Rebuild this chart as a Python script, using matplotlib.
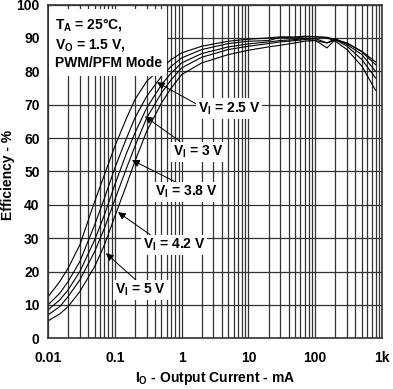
import matplotlib
matplotlib.use('Agg')
import matplotlib.pyplot as plt

# ---------------- dados ----------------
corrente = [0.01, 0.015, 0.02, 0.03, 0.05, 0.07, 0.1, 0.15, 0.2, 0.3, 0.5, 0.7,
            1, 2, 5, 10, 20, 30, 50, 70, 100, 150, 200, 300, 500, 800]

ef_2v5 = [12.4, 17, 21, 28, 41, 49, 57.5, 66, 71.5, 77, 81, 83.5,
          85.5, 87.5, 89, 89.6, 90, 90.3, 90.3, 90.5, 90.4, 90, 89, 86.5, 81.5, 74.3]
ef_3v = [10, 13.5, 17, 23, 34, 42, 51, 60, 66, 72.5, 78.5, 81.5,
         84, 86.5, 88.3, 89, 89.2, 90.2, 90, 90.3, 90.3, 90.2, 89.5, 87.5, 83.5, 78]
ef_3v8 = [8.5, 11.5, 14.5, 20, 29.5, 37, 46, 55.5, 61.5, 69, 76, 79.5,
          82.5, 85.3, 87.3, 88.2, 88.8, 89.2, 89.5, 89.8, 89.8, 88.5, 89.8, 88, 85, 80]
ef_4v2 = [7, 9.5, 12.5, 17.5, 26, 33, 41.5, 51, 57.5, 66, 73.5, 77.5,
          81, 84.2, 86.5, 87.5, 88.3, 88.8, 89.2, 89.5, 89.3, 87, 89.5, 88.5, 85.8, 82]
ef_5v = [5.2, 7.3, 9.5, 14, 21.5, 28, 36.5, 46, 53, 62, 70.5, 75,
         79, 82.5, 85, 86.3, 87.3, 87.8, 88.5, 89, 89.2, 88.5, 89.3, 88.4, 86, 82.8]

curvas = [ef_2v5, ef_3v, ef_3v8, ef_4v2, ef_5v]

rotulos = ['V$_\\mathregular{I}$ = 2.5 V', 'V$_\\mathregular{I}$ = 3 V',
           'V$_\\mathregular{I}$ = 3.8 V', 'V$_\\mathregular{I}$ = 4.2 V',
           'V$_\\mathregular{I}$ = 5 V']
# ponta da seta, inicio da seta e centro do rotulo (I, eficiencia)
pontas = [(0.4285, 76.7), (0.2825, 66.5), (0.181, 53.4), (0.1117, 37.8), (0.0738, 25.5)]
inicios = [(1.884, 69.6), (0.946, 59.0), (1.01, 45.9), (0.400, 30.0), (0.222, 16.9)]
centros = [(5.12, 68.9), (1.82, 55.8), (1.164, 43.8), (0.769, 27.9), (0.2466, 14.5)]

xticks = [0.01, 0.1, 1, 10, 100, 1000]
xticklabels = ['0.01', '0.1', '1', '10', '100', '1k']
yticks = list(range(0, 101, 10))

# ---------------- preferencias ----------------
plt.rcParams['font.family'] = ['Liberation Sans', 'DejaVu Sans']
plt.rcParams['font.weight'] = 'bold'
plt.rcParams['mathtext.fontset'] = 'custom'
plt.rcParams['mathtext.rm'] = 'Liberation Sans:bold'
plt.rcParams['mathtext.bf'] = 'Liberation Sans:bold'
cinza = '#333333'

fig = plt.figure(figsize=(3.93, 3.89), dpi=100)
ax = fig.add_axes([0.1221, 0.1303, 0.8499, 0.8581])

ax.set_xscale('log')
ax.set_xlim(0.01, 1000)
ax.set_ylim(0, 100)

ax.grid(True, which='both', axis='x', color=cinza, linewidth=0.9)
ax.grid(True, which='major', axis='y', color=cinza, linewidth=0.9)
ax.set_axisbelow(True)

for ef in curvas:
    ax.plot(corrente, ef, color='black', linewidth=0.8)

ax.set_xticks(xticks)
ax.set_xticklabels(xticklabels)
ax.set_yticks(yticks)
ax.tick_params(which='both', length=0, labelsize=10)
ax.tick_params(axis='x', pad=9)
ax.tick_params(axis='y', pad=6)
for lab in ax.get_xticklabels() + ax.get_yticklabels():
    lab.set_fontweight('bold')
for sp in ax.spines.values():
    sp.set_linewidth(1.2)
    sp.set_color(cinza)

ax.set_xlabel('I$_\\mathregular{O}$ - Output Current - mA', fontsize=10, fontweight='bold')
ax.set_ylabel('Efficiency - %', fontsize=10, fontweight='bold')
ax.xaxis.set_label_coords(0.5, -0.095)
ax.yaxis.set_label_coords(-0.098, 0.49)

# caixa de condicoes
ax.text(0.02, 0.965, 'T$_\\mathregular{A}$ = 25°C,\nV$_\\mathregular{O}$ = 1.5 V,\nPWM/PFM Mode',
        transform=ax.transAxes, ha='left', va='top', fontsize=10, fontweight='bold',
        linespacing=1.3,
        bbox=dict(facecolor='white', edgecolor='none', pad=4))

# setas e rotulos
for rot, ponta, ini, cen in zip(rotulos, pontas, inicios, centros):
    ax.annotate('', xy=ponta, xytext=ini,
                arrowprops=dict(arrowstyle='-|>', color='black', lw=0.7,
                                mutation_scale=11, shrinkA=0, shrinkB=0))
    ax.text(cen[0], cen[1], rot, ha='center', va='center', fontsize=10, fontweight='bold',
            bbox=dict(facecolor='white', edgecolor='none', pad=1.5))

fig.savefig('out.png', dpi=100)
